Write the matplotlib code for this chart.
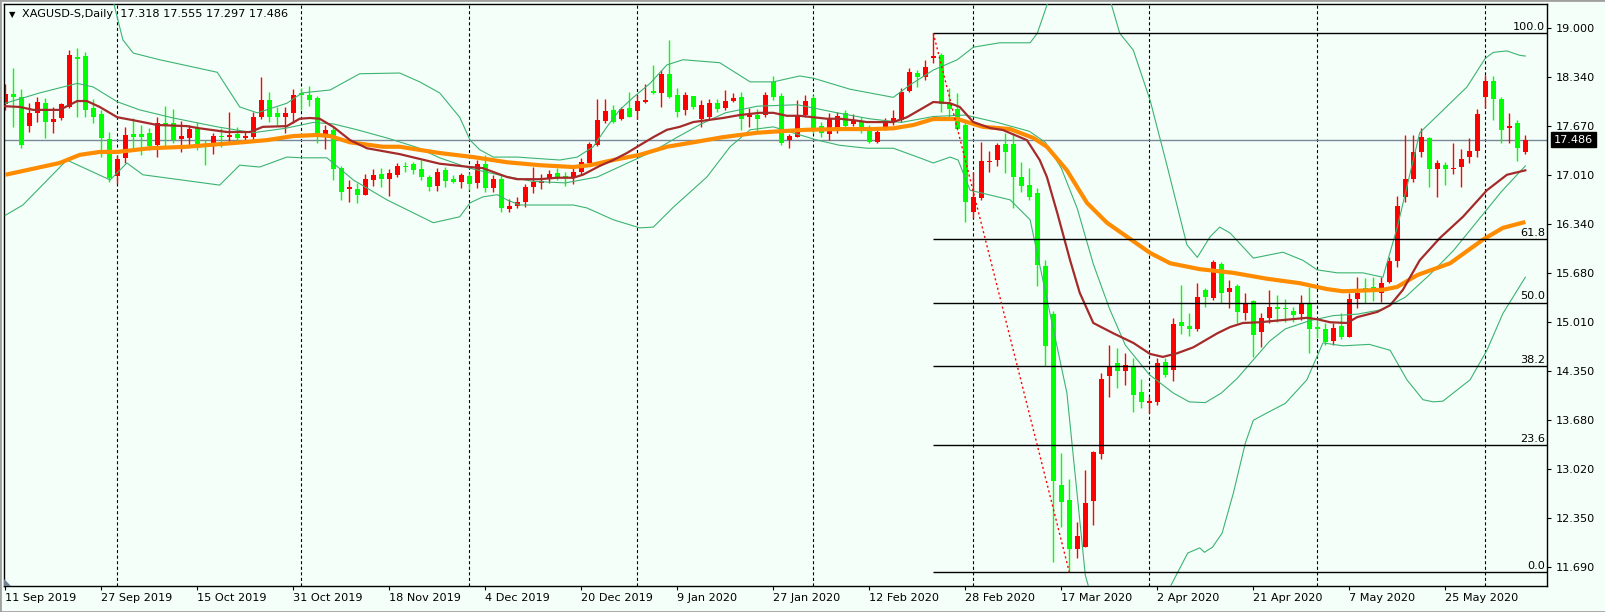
import matplotlib
matplotlib.use("Agg")
import matplotlib.pyplot as plt
import matplotlib.transforms as mtransforms
from matplotlib.patches import Polygon, Rectangle
import pandas as pd

# daily bars, XAGUSD, from 11 Sep 2019
opens = [
    17.97, 18.11, 18.06, 17.67, 17.85, 17.98, 17.73, 17.78, 17.93, 18.61,
    18.62, 17.91, 17.83, 17.50, 16.99, 17.24, 17.56, 17.56, 17.58, 17.41,
    17.71, 17.71, 17.50, 17.51, 17.64, 17.41, 17.40, 17.54, 17.52, 17.56,
    17.51, 17.52, 17.79, 18.02, 17.85, 17.79, 17.85, 18.12, 18.09, 18.05,
    17.56, 17.62, 17.10, 16.82, 16.82, 16.74, 16.94, 17.02, 16.95, 17.01,
    17.13, 17.16, 17.09, 16.98, 16.86, 17.07, 16.95, 16.91, 16.99, 16.90,
    17.16, 16.83, 16.95, 16.55, 16.59, 16.64, 16.84, 16.90, 16.95, 17.03,
    16.99, 16.98, 17.05, 17.17, 17.41, 17.74, 17.89, 17.77, 17.91, 17.87,
    18.00, 18.15, 18.12, 18.38, 18.09, 17.89, 18.08, 17.77, 17.79, 17.98,
    17.92, 18.01, 18.06, 17.79, 17.82, 17.82, 18.27, 18.08, 17.48, 17.52,
    17.82, 18.05, 17.67, 17.56, 17.64, 17.85, 17.70, 17.74, 17.60, 17.45,
    17.64, 17.72, 17.75, 18.15, 18.39, 18.34, 18.59, 18.63, 17.97, 17.90,
    17.68, 16.50, 16.69, 17.18, 17.21, 17.43, 17.43, 16.98, 16.87, 16.76,
    15.77, 15.12, 12.80, 12.60, 11.93, 11.96, 12.59, 13.22, 14.28, 14.46,
    14.35, 14.40, 14.06, 13.92, 13.93, 14.47, 14.36, 15.01, 14.96, 14.92,
    15.45, 15.34, 15.80, 15.42, 15.50, 15.13, 15.30, 14.88, 15.07, 15.22,
    15.20, 15.16, 15.12, 15.27, 14.95, 14.92, 14.76, 14.96, 14.81, 15.33,
    15.47, 15.49, 15.41, 15.56, 15.84, 16.71, 16.95, 17.32, 17.51, 17.09,
    17.14, 17.09, 17.12, 17.25, 17.33, 18.06, 18.28, 18.04, 17.64, 17.71,
    17.318,
]
highs = [
    18.24, 18.46, 18.17, 17.98, 18.06, 18.05, 17.93, 17.98, 18.70, 18.73,
    18.67, 18.04, 17.89, 17.59, 17.28, 17.66, 17.78, 17.68, 17.64, 17.79,
    17.94, 17.90, 17.74, 17.68, 17.73, 17.48, 17.58, 17.64, 17.86, 17.66,
    17.59, 17.86, 18.34, 18.13, 17.93, 17.93, 18.17, 18.19, 18.21, 18.08,
    17.68, 17.66, 17.13, 16.94, 16.90, 17.02, 17.09, 17.10, 17.09, 17.17,
    17.18, 17.18, 17.21, 17.01, 17.10, 17.12, 17.01, 17.03, 17.03, 17.21,
    17.28, 17.01, 17.01, 16.68, 16.71, 16.88, 17.12, 17.02, 17.07, 17.10,
    17.05, 17.11, 17.24, 17.45, 18.04, 18.04, 17.96, 17.93, 18.13, 18.09,
    18.24, 18.50, 18.43, 18.84, 18.19, 18.13, 18.08, 18.02, 18.04, 18.04,
    18.16, 18.12, 18.13, 17.92, 17.90, 18.13, 18.35, 18.12, 17.56, 18.02,
    18.09, 18.09, 17.73, 17.85, 17.86, 17.89, 17.83, 17.79, 17.68, 17.66,
    17.78, 17.89, 18.19, 18.46, 18.43, 18.57, 18.93, 18.66, 18.19, 18.12,
    17.73, 17.05, 17.45, 17.33, 17.44, 17.58, 17.58, 17.18, 17.10, 16.83,
    15.85, 15.16, 13.24, 12.88, 12.30, 13.01, 13.26, 14.32, 14.70, 14.66,
    14.59, 14.53, 14.24, 14.00, 14.53, 14.53, 15.07, 15.52, 15.13, 15.54,
    15.47, 15.85, 15.83, 15.58, 15.53, 15.41, 15.31, 15.13, 15.45, 15.38,
    15.33, 15.22, 15.38, 15.49, 15.07, 15.00, 15.00, 15.13, 15.41, 15.62,
    15.61, 15.62, 15.62, 15.89, 16.72, 17.55, 17.55, 17.64, 17.52, 17.21,
    17.18, 17.44, 17.36, 17.51, 17.90, 18.36, 18.35, 18.06, 17.85, 17.75,
    17.555,
]
lows = [
    17.89, 17.66, 17.37, 17.59, 17.73, 17.51, 17.58, 17.75, 17.92, 17.79,
    17.79, 17.71, 17.25, 16.91, 16.88, 17.17, 17.35, 17.28, 17.35, 17.25,
    17.39, 17.44, 17.32, 17.40, 17.35, 17.14, 17.29, 17.39, 17.45, 17.45,
    17.45, 17.45, 17.77, 17.73, 17.69, 17.58, 17.71, 17.89, 17.94, 17.44,
    17.36, 16.94, 16.67, 16.64, 16.63, 16.74, 16.86, 16.84, 16.72, 16.98,
    17.05, 17.02, 16.94, 16.79, 16.79, 16.84, 16.90, 16.83, 16.80, 16.83,
    16.78, 16.78, 16.50, 16.50, 16.56, 16.57, 16.76, 16.82, 16.90, 16.94,
    16.86, 16.88, 17.01, 17.17, 17.40, 17.71, 17.71, 17.75, 17.79, 17.77,
    17.98, 18.11, 17.93, 18.05, 17.79, 17.82, 17.90, 17.66, 17.75, 17.86,
    17.89, 18.00, 17.62, 17.66, 17.59, 17.79, 18.02, 17.41, 17.37, 17.52,
    17.79, 17.58, 17.52, 17.48, 17.58, 17.64, 17.67, 17.58, 17.44, 17.44,
    17.62, 17.68, 17.73, 18.13, 18.20, 18.30, 18.53, 17.86, 17.78, 17.62,
    16.37, 16.42, 16.67, 17.05, 17.13, 17.03, 16.56, 16.78, 16.67, 15.50,
    14.42, 11.76, 12.23, 11.62, 11.81, 11.96, 12.26, 13.15, 14.00, 14.12,
    14.16, 13.79, 13.85, 13.78, 13.89, 14.27, 14.21, 14.85, 14.82, 14.89,
    15.22, 15.31, 15.27, 15.20, 15.00, 15.04, 14.54, 14.67, 15.00, 15.01,
    15.01, 15.01, 15.04, 14.59, 14.80, 14.70, 14.70, 14.78, 14.81, 15.20,
    15.27, 15.30, 15.28, 15.54, 15.76, 16.64, 16.91, 17.25, 16.84, 16.71,
    16.87, 17.02, 16.84, 17.17, 17.25, 17.92, 17.75, 17.44, 17.44, 17.20,
    17.297,
]
closes = [
    18.11, 18.06, 17.41, 17.85, 18.00, 17.73, 17.77, 17.97, 18.63, 18.58,
    17.89, 17.79, 17.51, 16.97, 17.22, 17.55, 17.52, 17.52, 17.40, 17.71,
    17.68, 17.48, 17.54, 17.63, 17.40, 17.40, 17.54, 17.52, 17.55, 17.51,
    17.54, 17.79, 18.02, 17.79, 17.79, 17.85, 18.09, 18.09, 18.02, 17.56,
    17.62, 17.09, 16.78, 16.84, 16.74, 16.95, 17.01, 16.95, 17.03, 17.13,
    17.12, 17.07, 16.98, 16.84, 17.05, 16.93, 16.91, 17.01, 16.89, 17.16,
    16.83, 16.95, 16.56, 16.59, 16.64, 16.84, 16.91, 16.92, 17.02, 16.98,
    16.97, 17.05, 17.18, 17.43, 17.75, 17.87, 17.73, 17.90, 17.79, 18.01,
    18.02, 18.12, 18.38, 18.06, 17.86, 18.09, 17.93, 17.96, 17.98, 17.90,
    18.01, 18.05, 17.77, 17.82, 17.77, 18.09, 18.06, 17.44, 17.54, 17.82,
    18.01, 17.64, 17.58, 17.78, 17.81, 17.67, 17.75, 17.60, 17.45, 17.59,
    17.72, 17.78, 18.13, 18.40, 18.34, 18.47, 18.62, 17.97, 17.90, 17.63,
    16.64, 16.71, 17.20, 17.20, 17.41, 17.32, 16.98, 16.86, 16.71, 15.79,
    14.69, 12.86, 12.57, 11.93, 12.11, 12.56, 13.25, 14.24, 14.40, 14.35,
    14.43, 14.02, 13.93, 13.94, 14.46, 14.29, 14.99, 14.96, 14.92, 15.35,
    15.35, 15.83, 15.41, 15.47, 15.15, 15.27, 14.84, 15.07, 15.22, 15.19,
    15.19, 15.11, 15.27, 14.92, 14.92, 14.74, 14.93, 14.81, 15.32, 15.41,
    15.46, 15.45, 15.54, 15.84, 16.59, 16.95, 17.32, 17.52, 17.09, 17.17,
    17.09, 17.10, 17.22, 17.33, 17.83, 18.28, 18.04, 17.62, 17.67, 17.37,
    17.486,
]

# moving averages (bar index, price)
fast_ma_x = [0, 1.8, 3.5, 6.8, 9, 10.2, 11.8, 14, 16, 19, 22.7, 24.3, 27.7, 30.6, 32.2,
             35.2, 36.8, 38.1, 39.3, 41, 43.1, 45.2, 49.3, 54.3, 58.1, 59.7, 62.7, 64,
             66.8, 69, 71, 72.2, 74.3, 76, 77.7, 79.3, 81, 82.7, 84.3, 86, 87.7, 89.7,
             91.8, 94.3, 96, 97.7, 99.3, 101, 102.7, 104.3, 106, 107.7, 111, 112.7,
             114.7, 116, 118.1, 119.3, 121, 123.1, 124.7, 127.7, 129.3, 130.2, 131.5,
             133.1, 134.3, 136, 138.5, 141, 143.1, 144.7, 146.5, 148.5, 151.5, 153.1,
             154.7, 156.8, 159.7, 162.7, 164, 165.6, 167.7, 169, 171.5, 173.1, 174.7,
             176.8, 179.3, 182.2, 185.2, 187.7, 190]
fast_ma_y = [17.94, 17.93, 17.89, 17.89, 18.01, 18.01, 17.93, 17.79, 17.75, 17.685, 17.67,
             17.64, 17.59, 17.59, 17.66, 17.67, 17.77, 17.78, 17.77, 17.66, 17.48, 17.37,
             17.29, 17.16, 17.115, 17.10, 16.98, 16.95, 16.95, 16.97, 16.97, 17.01, 17.13,
             17.21, 17.305, 17.41, 17.52, 17.62, 17.66, 17.725, 17.75, 17.78, 17.82,
             17.85, 17.85, 17.81, 17.81, 17.79, 17.77, 17.77, 17.75, 17.725, 17.725,
             17.79, 17.915, 17.997, 17.98, 17.93, 17.725, 17.644, 17.617, 17.48, 17.21,
             16.98, 16.49, 15.85, 15.41, 15.0, 14.86, 14.73, 14.58, 14.54, 14.59, 14.67,
             14.86, 14.945, 15.0, 15.01, 15.04, 15.07, 15.05, 15.01, 15.0, 15.08, 15.15,
             15.24, 15.45, 15.85, 16.15, 16.44, 16.80, 17.01, 17.07]

slow_ma_x = [0, 6.8, 9.3, 11.8, 14, 18.1, 22.7, 28.5, 32.7, 36, 39, 40.6, 43.1, 47.2, 49.3,
             54.3, 58.5, 62.7, 66.8, 71, 73.1, 76, 79.3, 82.7, 86, 89.7, 94, 96.8, 100.2,
             104.3, 108.5, 111, 113.5, 116, 119, 122.2, 125.6, 128.5, 130.2, 132.7, 135.2,
             137.7, 140.2, 143.1, 145.6, 149.3, 153.5, 157.7, 161.8, 165.2, 167.2, 172.2,
             174, 176.5, 180.6, 184.7, 187.2, 190]
slow_ma_y = [17.01, 17.17, 17.28, 17.32, 17.32, 17.37, 17.39, 17.44, 17.48, 17.535, 17.55,
             17.535, 17.45, 17.39, 17.39, 17.305, 17.25, 17.18, 17.14, 17.115, 17.14, 17.21,
             17.28, 17.39, 17.45, 17.52, 17.58, 17.60, 17.62, 17.63, 17.63, 17.64, 17.685,
             17.766, 17.766, 17.66, 17.63, 17.51, 17.39, 17.07, 16.63, 16.36, 16.17, 15.95,
             15.81, 15.73, 15.68, 15.60, 15.54, 15.46, 15.43, 15.45, 15.49, 15.65, 15.81,
             16.13, 16.29, 16.37]

# Bollinger bands
bb_up_x = [0, 10, 12.5, 13.5, 14.7, 16, 19.3, 26.5, 29.3, 31.5, 35.2, 37.1, 40.6, 44.3, 49.3,
           51.8, 54.3, 56.8, 58.1, 59.3, 61, 64, 69.3, 71.5, 73.5, 75.2, 76.8, 78.5, 80.6,
           82.7, 84.7, 89.3, 93.1, 96, 99.3, 101, 105.6, 111, 113.1, 116, 119, 121, 124.3,
           128.1, 129, 130.2, 132, 135, 137, 138.1, 139.3, 141, 143.1, 145.2, 147.7, 149,
           150.6, 151.8, 153.1, 156, 159.7, 162.2, 164, 166.5, 169.7, 172.2, 174, 176.8,
           182.7, 185, 186, 187.7, 189.3, 190]
bb_up_y = [20.3, 20.3, 19.8, 19.36, 18.84, 18.66, 18.57, 18.40, 17.93, 17.85, 17.98, 18.12,
           18.16, 18.38, 18.39, 18.27, 18.12, 17.79, 17.48, 17.35, 17.25, 17.25, 17.21,
           17.25, 17.39, 17.66, 17.89, 18.06, 18.25, 18.50, 18.57, 18.53, 18.27, 18.27,
           18.35, 18.32, 18.17, 18.06, 18.23, 18.43, 18.57, 18.74, 18.80, 18.80, 18.93,
           19.31, 19.9, 20.4, 19.9, 19.38, 18.93, 18.70, 18.02, 17.14, 16.06, 15.89, 16.17,
           16.30, 16.22, 15.88, 15.96, 15.85, 15.72, 15.68, 15.68, 15.62, 16.3, 17.58,
           18.20, 18.59, 18.67, 18.69, 18.63, 18.62]

bb_mid_x = [0, 4.3, 9, 11, 14, 16.8, 21, 26.5, 31, 35, 38.5, 41, 44, 48, 51.5, 54.3, 58, 62,
            66, 70, 74, 78, 81, 84, 87, 90, 94, 99, 104, 108, 112, 116, 120, 124, 128, 130,
            132, 134, 136, 138, 140, 143, 146, 148, 150, 152, 154, 156, 158, 160, 163, 166,
            169, 172, 175, 178, 181, 184, 187, 190]
bb_mid_y = [17.98, 18.12, 18.25, 18.2, 18.0, 17.89, 17.78, 17.66, 17.58, 17.64, 17.72,
            17.70, 17.62, 17.50, 17.38, 17.24, 17.10, 17.0, 16.92, 16.90, 16.98, 17.18,
            17.33, 17.52, 17.70, 17.85, 17.94, 17.96, 17.85, 17.77, 17.72, 17.80, 17.82,
            17.72, 17.6, 17.45, 17.1, 16.55, 15.8, 15.2, 14.7, 14.3, 14.05, 13.93, 13.92,
            14.05, 14.25, 14.5, 14.75, 14.92, 15.03, 15.1, 15.12, 15.18, 15.35, 15.65,
            15.98, 16.38, 16.78, 17.13]

bb_lo_x = [0, 2.2, 7.7, 13.1, 15.2, 17.2, 26.8, 29.3, 31.8, 35.2, 37.1, 40.2, 43.5, 47.7,
           53.5, 56.8, 58.1, 59.7, 61.5, 62.7, 64.3, 71, 72.7, 76, 79.3, 81, 83.5, 87.7,
           90.6, 93.1, 96, 98.1, 101.5, 104.3, 107.7, 111, 114.3, 116, 118.1, 119.1, 120.6,
           125.6, 128.1, 132.7, 135, 136.5, 139, 142, 145.6, 147.8, 149.3, 149.9, 150.9,
           152.1, 153.5, 155, 156, 157.7, 160, 162.7, 164.7, 167.2, 170.5, 173.1, 175.2,
           177.2, 178.5, 179.7, 183.1, 185.2, 187.2, 190]
bb_lo_y = [16.46, 16.60, 17.21, 16.94, 17.17, 17.01, 16.87, 17.14, 17.115, 17.25, 17.24,
           17.24, 16.94, 16.67, 16.36, 16.44, 16.63, 16.71, 16.74, 16.67, 16.60, 16.60,
           16.56, 16.40, 16.29, 16.30, 16.57, 16.98, 17.39, 17.62, 17.66, 17.59, 17.48,
           17.41, 17.37, 17.37, 17.24, 17.17, 17.25, 17.21, 16.80, 16.67, 16.40, 14.05,
           11.58, 11.0, 10.4, 10.6, 11.42, 11.88, 11.95, 11.89, 11.96, 12.15, 12.69, 13.37,
           13.68, 13.78, 13.91, 14.23, 14.73, 14.69, 14.71, 14.63, 14.23, 13.96, 13.93,
           13.94, 14.23, 14.63, 15.13, 15.62]

fib_levels = [0.0, 23.6, 38.2, 50.0, 61.8, 100.0]
fib_low, fib_high = 11.62, 18.93
fib_start, fib_end = 116, 133

price_ticks = ["19.000", "18.340", "17.670", "17.010", "16.340", "15.680",
               "15.010", "14.350", "13.680", "13.020", "12.350", "11.690"]
date_ticks = ["11 Sep 2019", "27 Sep 2019", "15 Oct 2019", "31 Oct 2019", "18 Nov 2019",
              "4 Dec 2019", "20 Dec 2019", "9 Jan 2020", "27 Jan 2020", "12 Feb 2020",
              "28 Feb 2020", "17 Mar 2020", "2 Apr 2020", "21 Apr 2020", "7 May 2020",
              "25 May 2020"]

n = len(closes)
dates = pd.bdate_range("2019-09-11", periods=n, freq="C",
                       holidays=["2019-12-25", "2020-01-01", "2020-04-10"])
month_starts = [i for i in range(1, n) if dates[i].month != dates[i - 1].month]

bg = "#F5FFFA"
up_col = "#FF0000"
down_col = "#00FF00"
band_col = "#3CB371"

plt.rcParams["font.family"] = ["DejaVu Sans"]
plt.rcParams["font.size"] = 8.1

W, H = 1606, 612
fig = plt.figure(figsize=(W / 100, H / 100), dpi=100, facecolor=bg)
ax = fig.add_axes([4 / W, 26 / H, 1543 / W, 582 / H])
ax.set_facecolor(bg)

x = list(range(n))
cols = [up_col if c >= o else down_col for o, c in zip(opens, closes)]
bottoms = [min(o, c) for o, c in zip(opens, closes)]
heights = [max(abs(c - o), 0.012) for o, c in zip(opens, closes)]

for m in month_starts:
    ax.axvline(m, color="black", lw=0.8, ls=(0, (2.8, 2.2)), zorder=1)
ax.axhline(closes[-1], color="#778899", lw=1, zorder=1)

ax.vlines(x, lows, highs, colors=cols, lw=1, zorder=2)
ax.bar(x, heights, bottom=bottoms, width=0.66, color=cols, linewidth=0, zorder=2)

ax.plot(bb_up_x, bb_up_y, color=band_col, lw=0.8, zorder=3)
ax.plot(bb_mid_x, bb_mid_y, color=band_col, lw=0.8, zorder=3)
ax.plot(bb_lo_x, bb_lo_y, color=band_col, lw=0.8, zorder=3)
ax.plot(slow_ma_x, slow_ma_y, color="#FF8C00", lw=3, zorder=4, solid_capstyle="butt")
ax.plot(fast_ma_x, fast_ma_y, color="#A52A2A", lw=1.6, zorder=5)

# fibonacci retracement
x_right = 192.71
for lv in fib_levels:
    p = fib_low + lv / 100 * (fib_high - fib_low)
    ax.hlines(p, fib_start, x_right, color="black", lw=1, zorder=6)
    ax.text(192.45, p + 0.02, f"{lv:.1f}", ha="right", va="bottom", zorder=7)
ax.plot([fib_start, fib_end], [fib_high, fib_low], color="red", lw=1,
        ls=(0, (1.5, 2)), zorder=6)

ax.set_xlim(-0.16, x_right)
ax.set_ylim(11.433, 19.326)

tick_pos = [19 - k * (19 - 11.69) / 11 for k in range(len(price_ticks))]
ax.yaxis.tick_right()
ax.set_yticks(tick_pos)
ax.set_yticklabels(price_ticks)
ax.tick_params(axis="y", direction="out", length=3, width=0.8, pad=3)
ax.set_xticks(range(0, 12 * len(date_ticks), 12))
ax.set_xticklabels(date_ticks, ha="left")
ax.tick_params(axis="x", direction="out", length=3, width=0.8, pad=2)
for s in ax.spines.values():
    s.set_color("black")
    s.set_linewidth(1)

trans = mtransforms.blended_transform_factory(ax.transAxes, ax.transData)
ax.text(1.0045, closes[-1], "17.486", transform=trans, ha="left", va="center",
        color="white", zorder=8,
        bbox=dict(boxstyle="square,pad=0.25", facecolor="black", edgecolor="black"))

fig.text(9 / W, 1 - 15 / H, "▼", fontsize=6, va="center")
fig.text(22 / W, 1 - 14 / H, "XAGUSD-S,Daily  17.318 17.555 17.297 17.486", va="center")

# window frame and chart-shift marker
fig.add_artist(Rectangle((0, 0), 1, 1, transform=fig.transFigure, fill=False,
                         edgecolor="#A0A0A0", lw=2))
fig.add_artist(Polygon([(4 / W, 26 / H), (11 / W, 26 / H), (4 / W, 33 / H)],
                       closed=True, transform=fig.transFigure, facecolor="#708090",
                       edgecolor="none"))

fig.savefig("out.png", dpi=100, facecolor=bg)
